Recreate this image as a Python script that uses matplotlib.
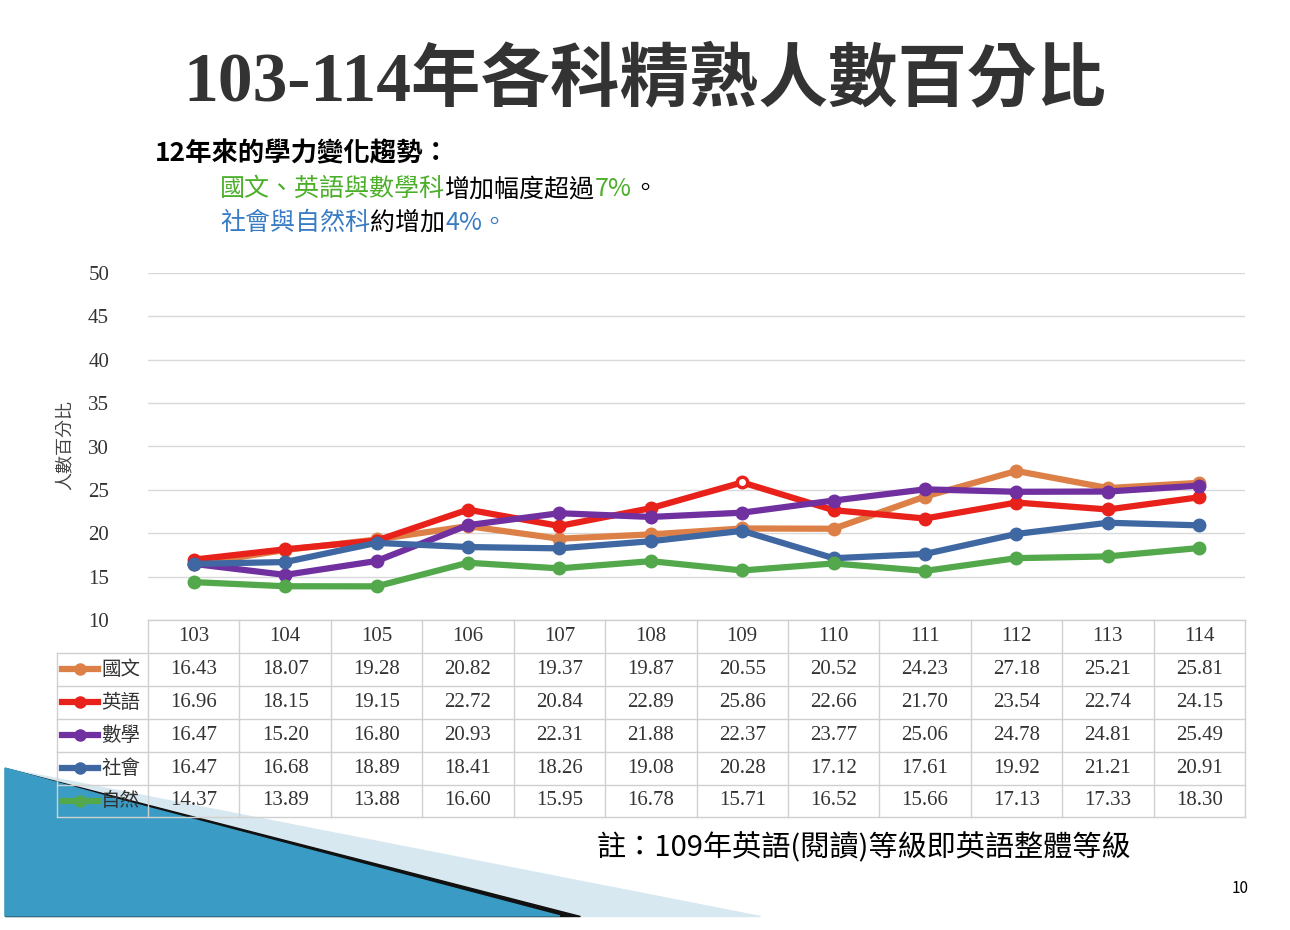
import matplotlib
matplotlib.use("Agg")
import matplotlib.pyplot as plt
from matplotlib.patches import Polygon

plt.rcParams['font.family'] = ['Noto Sans CJK TC', 'DejaVu Sans']

# data
years = ["103", "104", "105", "106", "107", "108", "109", "110", "111", "112", "113", "114"]
subjects = ["國文", "英語", "數學", "社會", "自然"]
chinese = [16.43, 18.07, 19.28, 20.82, 19.37, 19.87, 20.55, 20.52, 24.23, 27.18, 25.21, 25.81]
english = [16.96, 18.15, 19.15, 22.72, 20.84, 22.89, 25.86, 22.66, 21.70, 23.54, 22.74, 24.15]
math = [16.47, 15.20, 16.80, 20.93, 22.31, 21.88, 22.37, 23.77, 25.06, 24.78, 24.81, 25.49]
social = [16.47, 16.68, 18.89, 18.41, 18.26, 19.08, 20.28, 17.12, 17.61, 19.92, 21.21, 20.91]
science = [14.37, 13.89, 13.88, 16.60, 15.95, 16.78, 15.71, 16.52, 15.66, 17.13, 17.33, 18.30]
series = [chinese, english, math, social, science]
colors = ["#DD8047", "#E8211A", "#7030A0", "#3F67A2", "#52A84A"]

W, H = 1290, 930
fig = plt.figure(figsize=(W / 100, H / 100), dpi=100)
renderer = fig.canvas.get_renderer()

# background layer in pixel coords
bg = fig.add_axes([0, 0, 1, 1])
bg.set_xlim(0, W)
bg.set_ylim(H, 0)
bg.axis("off")


def text_run(x0, y, pieces, **kw):
    # write coloured pieces one after another
    x = x0
    for s, c in pieces:
        t = bg.text(x, y, s, color=c, ha="left", va="center", **kw)
        bb = t.get_window_extent(renderer=renderer)
        x += bb.width


# decorative wedges bottom-left
bg.add_patch(Polygon([(5, 768), (5, 916), (760, 916)], color="#D7E8F0", zorder=1))
bg.add_patch(Polygon([(5, 768), (5, 916), (580, 916)], color="#111111", zorder=2))
bg.add_patch(Polygon([(5, 768), (5, 916), (560, 916), (120, 800)], color="#3A9CC4", zorder=3))

# titles
fig.text(0.5, 1 - 82 / H, "103-114年各科精熟人數百分比", ha="center", va="center",
         fontsize=50, fontweight="bold", color="#333333",
         family=["Liberation Serif", "Noto Sans CJK TC"])
text_run(155, 154, [("12年來的學力變化趨勢：", "black")], fontsize=19, fontweight="bold")
text_run(220, 189, [("國文、英語與數學科", "#4CAF2A"), ("增加幅度超過", "black"),
                    ("7%", "#4CAF2A"), ("。", "black")], fontsize=18)
text_run(220, 223, [("社會與自然科", "#3A7CC4"), ("約增加", "black"),
                    ("4%。", "#3A7CC4")], fontsize=18)
text_run(597, 848, [("註：109年英語(閱讀)等級即英語整體等級", "black")], fontsize=21)
bg.text(1240, 888, "10", ha="center", va="center", fontsize=11)
bg.text(65, 445, "人數百分比", rotation=90, ha="center", va="center", fontsize=13, color="#444444")

# chart
left, right, top, bottom = 148, 1245, 273, 620
ax = fig.add_axes([left / W, 1 - bottom / H, (right - left) / W, (bottom - top) / H])
ax.patch.set_alpha(0)
x = list(range(len(years)))
for vals, c in zip(series, colors):
    ax.plot(x, vals, color=c, lw=4.5, marker="o", ms=9, zorder=3)
ax.plot([6], [english[6]], "o", color="white", ms=4, zorder=4)
ax.set_xlim(-0.5, 11.5)
ax.set_ylim(10, 50)
ax.set_yticks(range(10, 51, 5))
ax.set_yticklabels([str(v) for v in range(10, 51, 5)], family="Liberation Serif", fontsize=15, color="#333333")
ax.set_xticks([])
ax.grid(axis="y", color="#D9D9D9", lw=1)
for s in ax.spines.values():
    s.set_visible(False)
ax.tick_params(axis="y", length=0, pad=28)

# data table
col_w = (right - left) / len(years)
row_h = 32.9
lab_left = 57
tcol = "#D0D0D0"
n_rows = len(subjects) + 1
y_end = bottom + row_h * n_rows
for i in range(len(years) + 1):
    xx = left + i * col_w
    bg.plot([xx, xx], [bottom, y_end], color=tcol, lw=1, zorder=5)
bg.plot([lab_left, lab_left], [bottom + row_h, y_end], color=tcol, lw=1, zorder=5)
bg.plot([left, right], [bottom, bottom], color=tcol, lw=1, zorder=5)
for r in range(1, n_rows + 1):
    bg.plot([lab_left, right], [bottom + r * row_h] * 2, color=tcol, lw=1, zorder=5)
for i, yr in enumerate(years):
    bg.text(left + (i + 0.5) * col_w, bottom + row_h / 2, yr, ha="center", va="center",
            fontsize=15, family="Liberation Serif", color="#333333", zorder=6)
for r, (name, vals, c) in enumerate(zip(subjects, series, colors)):
    yc = bottom + (r + 1.5) * row_h
    bg.plot([62, 98], [yc, yc], color=c, lw=4.5, zorder=6)
    bg.plot([80], [yc], "o", color=c, ms=8, zorder=6)
    bg.text(101, yc, name, ha="left", va="center", fontsize=14, color="#333333", zorder=6)
    for i, v in enumerate(vals):
        bg.text(left + (i + 0.5) * col_w, yc, f"{v:.2f}", ha="center", va="center",
                fontsize=15, family="Liberation Serif", color="#333333", zorder=6)

fig.savefig("out.png", dpi=100)
